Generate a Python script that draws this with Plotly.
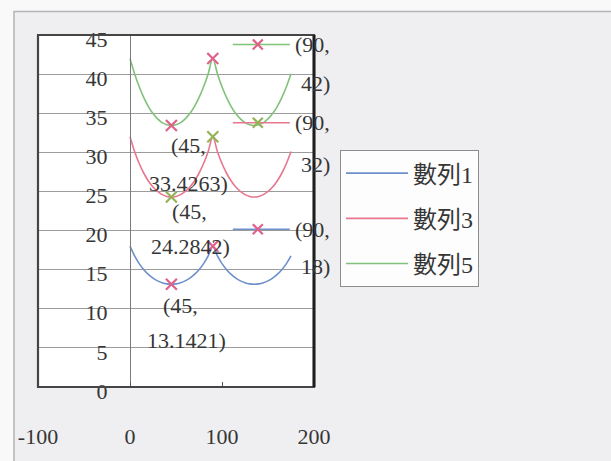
import plotly.graph_objects as go

# angle values (degrees) shared by all series
x_deg = [0, 5, 10, 15, 20, 25, 30, 35, 40, 45, 50, 55, 60, 65, 70, 75, 80, 85,
         90, 95, 100, 105, 110, 115, 120, 125, 130, 135, 140, 145, 150, 155, 160, 165, 170, 175]

series1 = [18, 16.7571, 15.7741, 14.9966, 14.3867, 13.9173, 13.5692, 13.3292, 13.1885,
           13.1421, 13.1885, 13.3292, 13.5692, 13.9173, 14.3867, 14.9966, 15.7741, 16.7571,
           18, 16.7571, 15.7741, 14.9966, 14.3867, 13.9173, 13.5692, 13.3292, 13.1885,
           13.1421, 13.1885, 13.3292, 13.5692, 13.9173, 14.3867, 14.9966, 15.7741, 16.7571]

series3 = [32, 30.1061, 28.5675, 27.3265, 26.3384, 25.5696, 24.9949, 24.5963, 24.3617,
           24.2842, 24.3617, 24.5963, 24.9949, 25.5696, 26.3384, 27.3265, 28.5675, 30.1061,
           32, 30.1061, 28.5675, 27.3265, 26.3384, 25.5696, 24.9949, 24.5963, 24.3617,
           24.2842, 24.3617, 24.5963, 24.9949, 25.5696, 26.3384, 27.3265, 28.5675, 30.1061]

series5 = [42, 40.0469, 38.3804, 36.9898, 35.8553, 34.9570, 34.2769, 33.8011, 33.5196,
           33.4263, 33.5196, 33.8011, 34.2769, 34.9570, 35.8553, 36.9898, 38.3804, 40.0469,
           42, 40.0469, 38.3804, 36.9898, 35.8553, 34.9570, 34.2769, 33.8011, 33.5196,
           33.4263, 33.5196, 33.8011, 34.2769, 34.9570, 35.8553, 36.9898, 38.3804, 40.0469]

names = ["數列1", "數列3", "數列5"]
line_colors = ["#6d8fcb", "#e8768f", "#80c27a"]
marker_colors = ["#e0608a", "#93b25a", "#e0608a"]
values = [series1, series3, series5]

x_ticks = [-100, 0, 100, 200]
x_tick_text = ["-100", "0", "100", "200"]

# labelled points: minimum at 45°, maximum at 90°
min_x, max_x = 45, 90
# pixel offsets for the two-line labels (xshift 1, xshift 2, yshift 1, yshift 2)
min_label_pos = [(9, 15, -21, -56), (18, 19, -14, -49), (17, 17, -20, -58)]
max_label_pos = [(80, 86, 17, -20), (80, 86, 14, -28), (80, 86, 14, -25)]
key_dy = [17, 14, 14]

FONT = "Liberation Serif, Noto Sans CJK TC, serif"
TEXT = "#363636"

fig = go.Figure()

for name, ys, lc in zip(names, values, line_colors):
    fig.add_trace(go.Scatter(
        x=x_deg, y=ys, name=name, mode="lines", legendgroup=name,
        line=dict(color=lc, width=1.6, shape="spline", smoothing=1.0),
    ))

annotations = []
shapes = []
for i, (ys, lc, mc) in enumerate(zip(values, line_colors, marker_colors)):
    i_min, i_max = x_deg.index(min_x), x_deg.index(max_x)
    px = [x_deg[i_min], x_deg[i_max]]
    py = [ys[i_min], ys[i_max]]
    fig.add_trace(go.Scatter(
        x=px, y=py, mode="markers", showlegend=False, hoverinfo="skip",
        marker=dict(symbol="x-thin", size=11, line=dict(color=mc, width=2.2)),
    ))

    # label under the minimum point
    dx1, dx2, dy1, dy2 = min_label_pos[i]
    for txt, dx, dy in ((f"({px[0]:g},", dx1, dy1), (f"{py[0]:g})", dx2, dy2)):
        annotations.append(dict(x=px[0], y=py[0], xref="x", yref="y", text=txt,
                                showarrow=False, xshift=dx, yshift=dy,
                                xanchor="center", yanchor="middle",
                                font=dict(family=FONT, size=22, color=TEXT)))

    # label of the maximum point, moved to the right with its legend key
    dx1, dx2, dy1, dy2 = max_label_pos[i]
    for txt, dx, dy in ((f"({px[1]:g},", dx1, dy1), (f"{py[1]:g})", dx2, dy2)):
        annotations.append(dict(x=px[1], y=py[1], xref="x", yref="y", text=txt,
                                showarrow=False, xshift=dx, yshift=dy,
                                xanchor="left", yanchor="middle",
                                font=dict(family=FONT, size=22, color=TEXT)))
    ky = key_dy[i]
    base = dict(type="line", xref="x", yref="y", xsizemode="pixel", ysizemode="pixel",
                xanchor=px[1], yanchor=py[1], layer="above")
    shapes.append(dict(base, x0=20, x1=77, y0=ky, y1=ky, line=dict(color=lc, width=1.6)))
    for a, b in ((-5, 5), (5, -5)):
        shapes.append(dict(base, x0=45 - 5, x1=45 + 5, y0=ky + a, y1=ky + b,
                           line=dict(color=mc, width=2.2)))

L, R, T, B = 38, 297, 35, 65
W, H = 611, 461
pw, ph = W - L - R, H - T - B

# chart area, plot area and frame
shapes = [
    dict(type="rect", xref="paper", yref="paper", x0=(14 - L) / pw, x1=2.5,
         y0=-1, y1=(H - B - 11) / ph, fillcolor="#efeff1",
         line=dict(color="#b4b4b6", width=1.5), layer="below"),
    dict(type="rect", xref="x domain", yref="y domain", x0=0, x1=1, y0=0, y1=1,
         fillcolor="white", line=dict(width=0), layer="below"),
] + shapes + [
    dict(type="rect", xref="x domain", yref="y domain", x0=0, x1=1, y0=0, y1=1,
         line=dict(color="#454545", width=2.2), layer="above"),
    dict(type="line", xref="x domain", yref="y domain", x0=1, x1=1, y0=0, y1=1,
         line=dict(color="#1e1e1e", width=3), layer="above"),
]

fig.update_layout(
    width=W, height=H, autosize=False,
    margin=dict(l=L, r=R, t=T, b=B, pad=0),
    paper_bgcolor="#f9f9fa", plot_bgcolor="white",
    font=dict(family=FONT, size=22, color=TEXT),
    xaxis=dict(range=[-100, 200], tickvals=x_ticks, ticktext=x_tick_text, ticks="inside",
               ticklen=5, tickcolor="#555", showgrid=False, zeroline=False,
               showline=False, ticklabelstandoff=34,
               tickfont=dict(family=FONT, size=22, color=TEXT)),
    yaxis=dict(range=[0, 45], dtick=5, anchor="free", position=1 / 3,
               showline=True, linecolor="#7a7a7a", linewidth=1,
               showgrid=True, gridcolor="#9c9c9c", gridwidth=1, zeroline=False,
               ticks="", ticklabelstandoff=18, ticklabelshift=4,
               tickfont=dict(family=FONT, size=22, color=TEXT)),
    legend=dict(x=(340 - L) / pw, y=(H - B - 153) / ph, xanchor="left", yanchor="top",
                bgcolor="#fdfdfd", bordercolor="#8c8c8c", borderwidth=1,
                font=dict(family=FONT, size=24, color=TEXT),
                tracegroupgap=11, itemwidth=62),
    showlegend=True,
    annotations=annotations,
    shapes=shapes,
)

fig.write_html("out.html")
